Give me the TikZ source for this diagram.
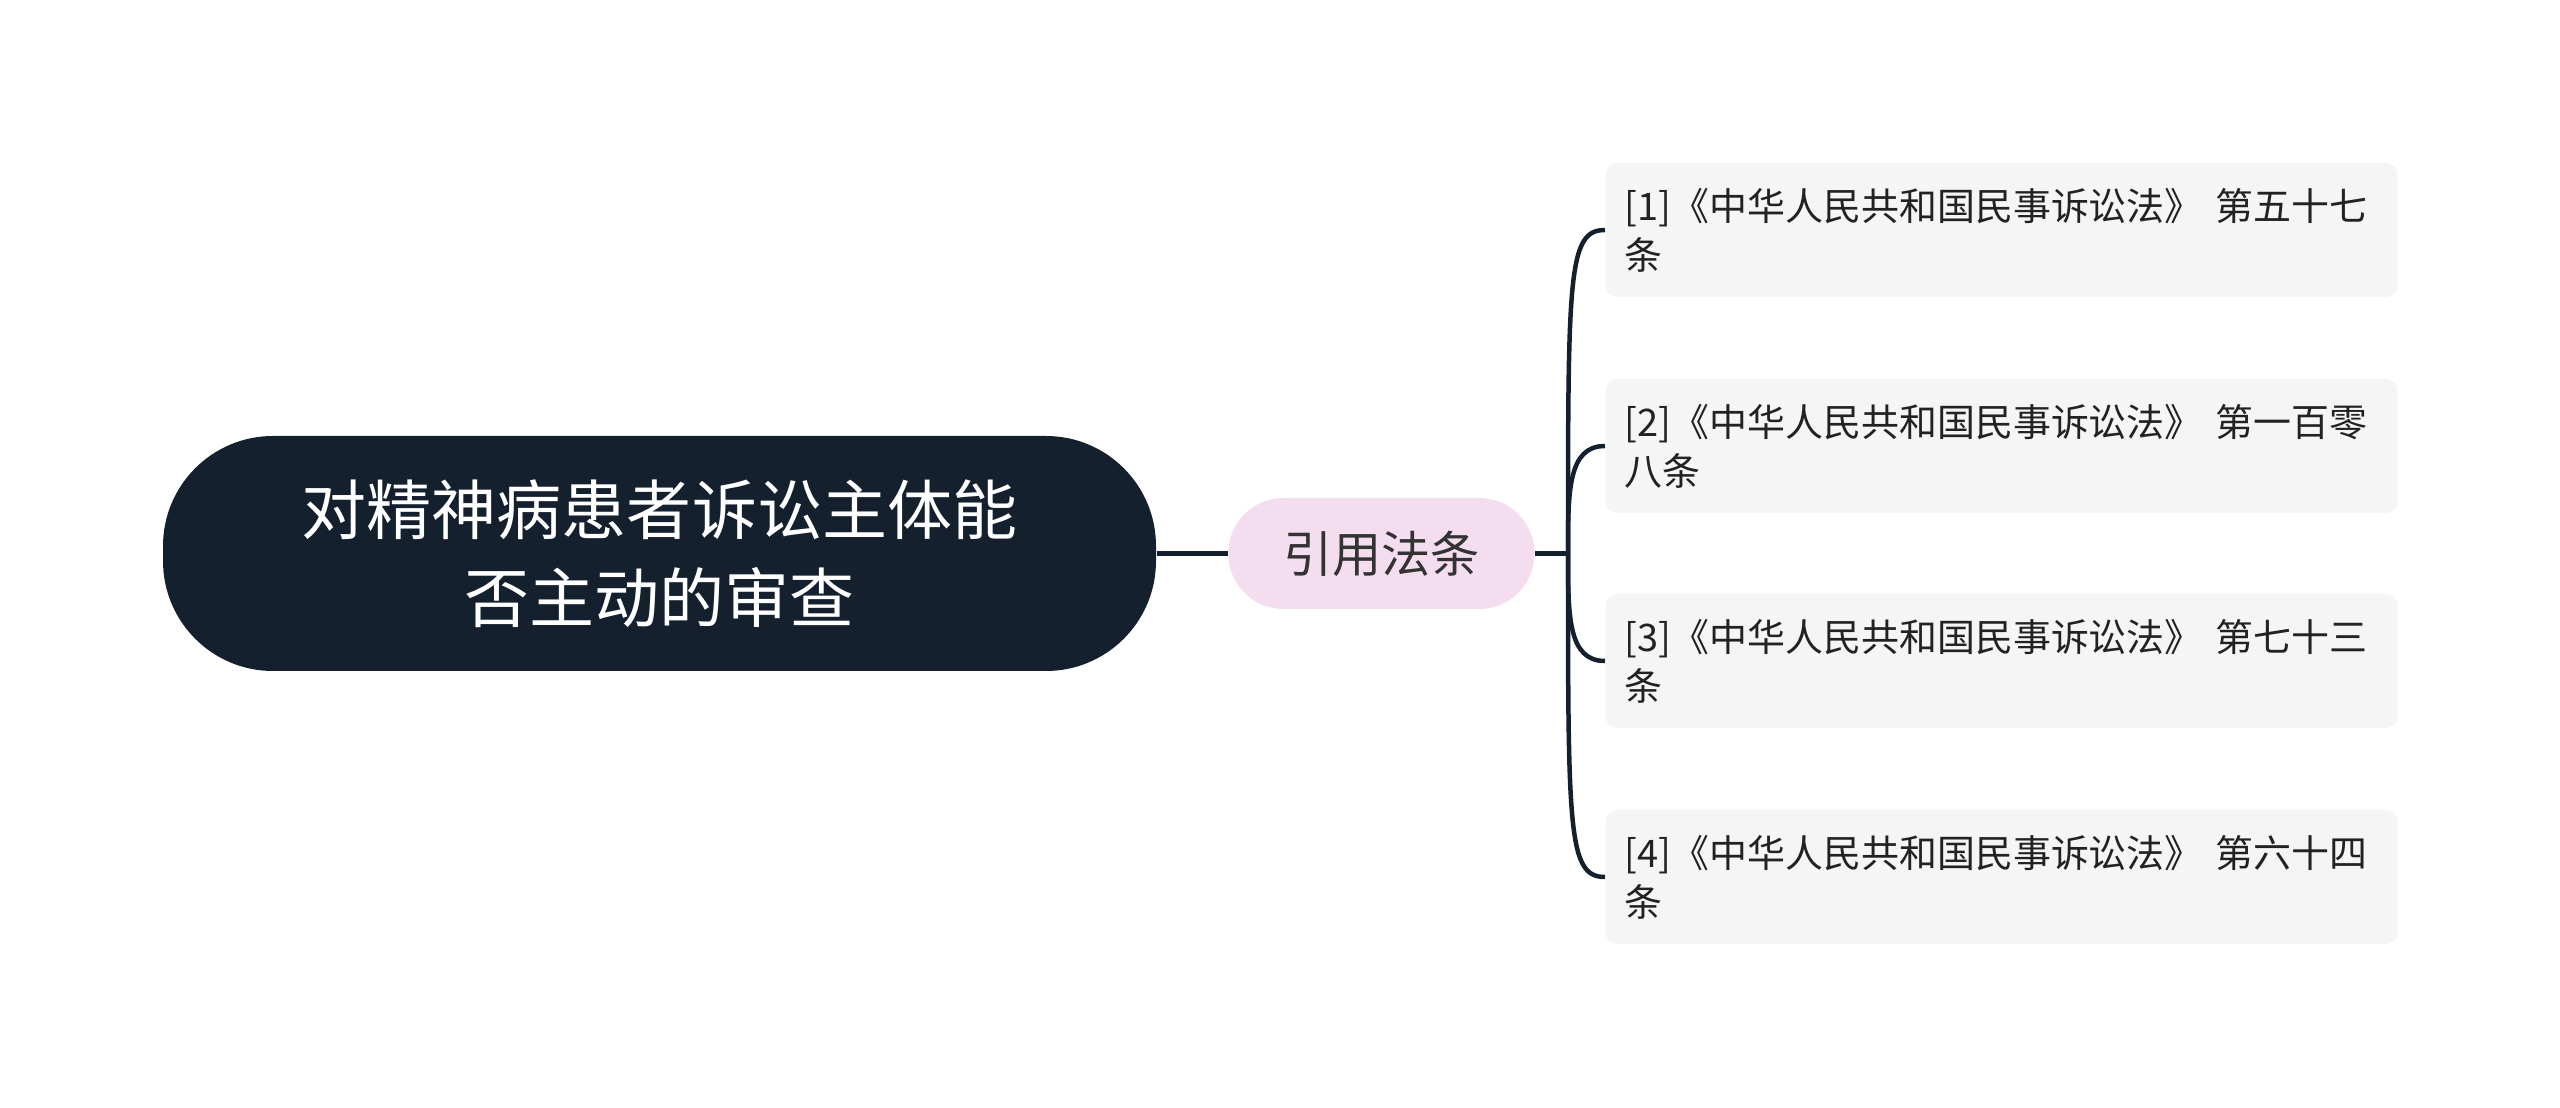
\documentclass[tikz,border=0pt]{standalone}
\usepackage{fontspec}
\setmainfont{Noto Sans CJK SC}
\usetikzlibrary{positioning,calc}
\definecolor{navy}{HTML}{15202F}
\definecolor{blush}{HTML}{F5DDF0}
\definecolor{paper}{HTML}{F5F5F5}
\definecolor{ink}{HTML}{222222}
\definecolor{soft}{HTML}{333333}

\tikzset{
  rootbox/.style={fill=navy,text=white,rounded corners=11mm,align=center,
    minimum width=99.3mm,minimum height=23.5mm,inner sep=0pt,
    font=\fontsize{18.5}{25}\selectfont},
  citebox/.style={fill=blush,text=soft,rounded corners=5.5mm,
    minimum width=30.6mm,minimum height=11.1mm,inner sep=0pt,
    font=\fontsize{14}{16}\selectfont},
  lawbox/.style={fill=paper,text=ink,rounded corners=1.2mm,anchor=west,
    text width=75.4mm,inner xsep=1.9mm,minimum height=13.4mm,align=left,
    font=\fontsize{10.8}{14}\selectfont},
  branch/.style={navy,line width=0.45mm},
}

\begin{document}
\begin{tikzpicture}[x=0.1mm,y=0.1mm]

  % canvas
  \fill[white] (0,0) rectangle (2560,1107);
  \useasboundingbox (0,0) rectangle (2560,1107);

  % ---------------------------------------------------------------- ROOT
  \node[rootbox] (root) at (659.5,553.5) {对精神病患者诉讼主体能\\否主动的审查};

  % ---------------------------------------------------------------- CITATIONS
  \node[citebox,right=7.1mm of root] (cite) {引用法条};
  \draw[branch] (root.east) -- (cite.west);

  \node[lawbox] (law1) at (1605,877) {[1]《中华人民共和国民事诉讼法》~第五十七\\条};
  \node[lawbox] (law2) at (1605,661) {[2]《中华人民共和国民事诉讼法》~第一百零\\八条};
  \node[lawbox] (law3) at (1605,446) {[3]《中华人民共和国民事诉讼法》~第七十三\\条};
  \node[lawbox] (law4) at (1605,230) {[4]《中华人民共和国民事诉讼法》~第六十四\\条};

  % bracket from the fork to each article
  \coordinate (fork) at (1568,553.5);
  \draw[branch] (cite.east) -- (fork);
  \foreach \n in {1,2,3,4} {
    \draw[branch] (fork) .. controls ($(fork |- law\n.west)!4.5mm!(fork)$)
      and (fork |- law\n.west) .. (law\n.west);
  }

\end{tikzpicture}
\end{document}
